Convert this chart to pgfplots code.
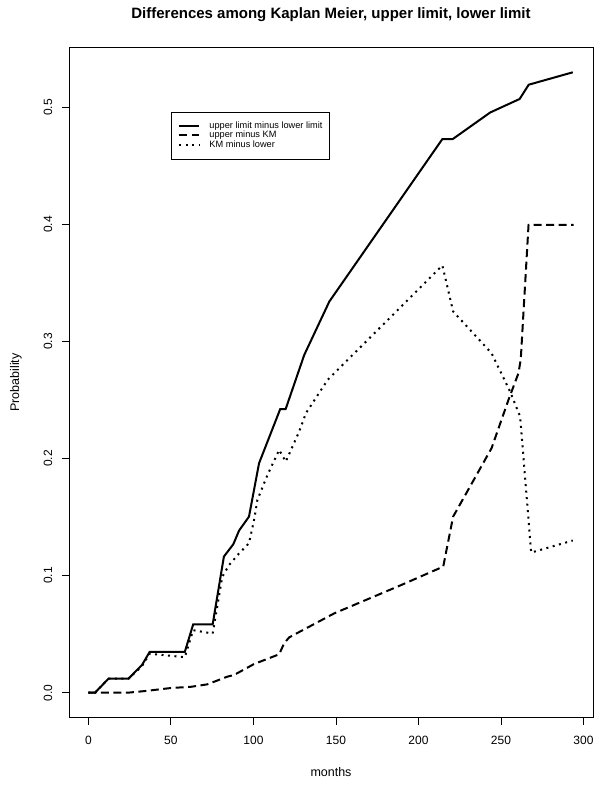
\documentclass[border=0pt]{standalone}
\usepackage{fontspec}
\setmainfont{Liberation Sans}
\usepackage{pgfplots}
\pgfplotsset{compat=1.18}

\begin{document}
\begin{tikzpicture}[x=1pt,y=1pt]
% page frame: 601 x 787, axis box starts at (0,0)
\useasboundingbox (-69,-69.5) rectangle (532,717.5);
\begin{axis}[
    at={(0,0)}, anchor=south west,
    scale only axis, width=524pt, height=670pt,
    xmin=-11.76, xmax=305.76,
    ymin=-0.0212, ymax=0.5512,
    axis line style={line width=0.9pt},
    tick style={line width=0.9pt, black},
    tick align=outside, major tick length=7pt,
    xtick pos=lower, ytick pos=left,
    xtick={0,50,100,150,200,250,300},
    xticklabels={0,50,100,150,200,250,300},
    ytick={0,0.1,0.2,0.3,0.4,0.5},
    yticklabels={},
    ticklabel style={font=\fontsize{12}{14}\selectfont},
    xticklabel style={anchor=north, inner sep=0pt, yshift=-11pt},
    legend style={at={(axis description cs:0.208,0.8896)}, anchor=north west,
        draw=none, fill=none, inner sep=0pt,
        font=\fontsize{9.2}{9.5}\selectfont,
        nodes={inner sep=0.3pt}, column sep=9pt, row sep=0.5pt},
    legend cell align=left,
    legend image code/.code={\draw[#1] (0pt,0pt) -- (20pt,0pt);},
]
\addplot[black, line width=2pt] coordinates {
    (0,0) (4,0) (12.2,0.012) (24.3,0.012) (32.5,0.0237) (37.1,0.0348)
    (58.4,0.0348) (63.5,0.0584) (75.3,0.0584) (82.1,0.1163) (87.8,0.1268)
    (91.3,0.1385) (97.3,0.1504) (103.4,0.196) (116.2,0.2422) (119.5,0.2422)
    (130.8,0.2886) (146,0.3342) (214.5,0.473) (220.8,0.473) (243.5,0.4957)
    (261.3,0.5072) (266.8,0.5194) (293.5,0.530)
};
\addlegendentry{upper limit minus lower limit}
\addplot[black, line width=2pt, dash pattern=on 8pt off 4.5pt] coordinates {
    (0,0) (24,0) (35,0.0015) (50,0.004) (62,0.005) (72,0.0071) (84.2,0.0137)
    (88.2,0.0151) (100.4,0.0245) (115.6,0.0328) (118.6,0.0422) (121.7,0.0473)
    (149,0.0678) (189.6,0.092) (215,0.1077) (221,0.1504) (244.3,0.2089)
    (254.5,0.25) (260.6,0.273) (262,0.285) (266.7,0.3997) (294,0.3997)
};
\addlegendentry{upper minus KM}
\addplot[black, line width=2pt, dash pattern=on 2pt off 4.5pt] coordinates {
    (0,0) (4,0) (12.2,0.012) (24.3,0.012) (32.5,0.0227) (37.1,0.0333)
    (58.4,0.0303) (63.5,0.0534) (75.3,0.0505) (81.1,0.099) (85.2,0.109)
    (91.3,0.119) (97.3,0.1277) (100.4,0.1476) (102.4,0.1647) (108.5,0.186)
    (115.6,0.2074) (119.6,0.1974) (127.7,0.223) (131.8,0.2388) (145,0.2673)
    (214.5,0.365) (221,0.3257) (244.3,0.290) (255.5,0.2573) (261.6,0.236)
    (268.3,0.1197) (293.5,0.13)
};
\addlegendentry{KM minus lower}
\end{axis}
% legend frame
\draw[line width=0.8pt] (102,558.5) rectangle (260,605.5);
% y tick labels, set upright along the axis as R does
\foreach \k/\lab in {0/0.0,1/0.1,2/0.2,3/0.3,4/0.4,5/0.5}
    \node[font=\fontsize{12}{14}\selectfont, rotate=90, inner sep=0pt]
        at (-21, 24.8+117.05*\k) {\lab};
% titles
\node[font=\bfseries\fontsize{15}{17}\selectfont] at (262,702.5)
    {Differences among Kaplan Meier, upper limit, lower limit};
\node[font=\fontsize{12.5}{14}\selectfont] at (262,-54.5) {months};
\node[font=\fontsize{12.5}{14}\selectfont, rotate=90] at (-53,335) {Probability};
\end{tikzpicture}
\end{document}
